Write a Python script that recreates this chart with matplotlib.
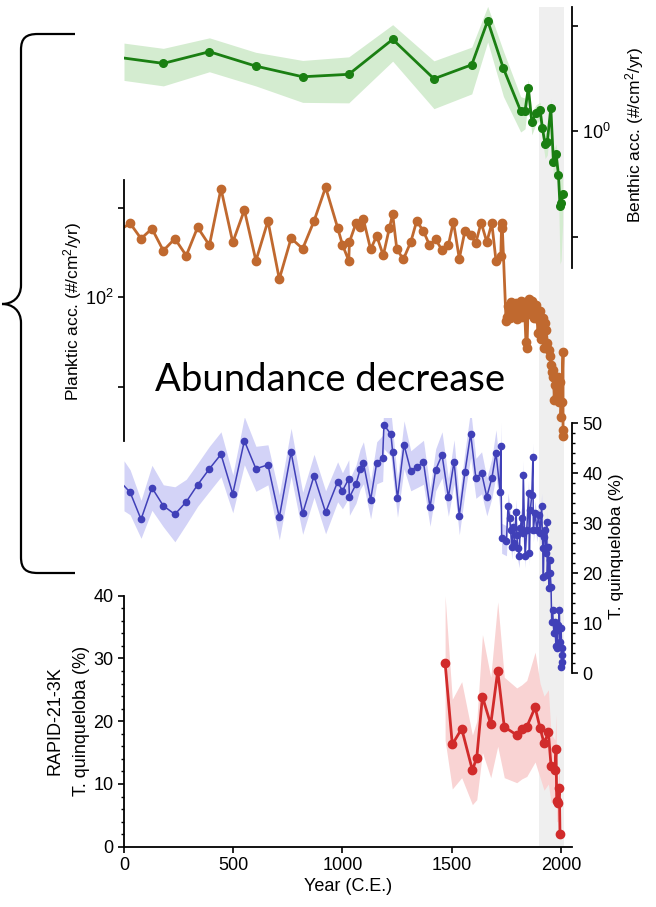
import matplotlib
matplotlib.use('Agg')
import matplotlib.pyplot as plt
from matplotlib.path import Path
from matplotlib.patches import PathPatch
from matplotlib.ticker import MultipleLocator, NullLocator

plt.rcParams['font.family'] = ['Liberation Sans', 'DejaVu Sans']
plt.rcParams['font.size'] = 12
plt.rcParams['mathtext.fontset'] = 'custom'
plt.rcParams['mathtext.rm'] = 'Liberation Sans'
plt.rcParams['mathtext.it'] = 'Liberation Sans:italic'

# benthic accumulation (green, log)
benthic_year = [0, 180, 391, 603, 818, 1029, 1230, 1419, 1592, 1665, 1737, 1816, 1836, 1851,
                1867, 1886, 1905, 1915, 1928, 1938, 1954, 1966, 1978, 1989, 1996, 2001, 2008]
benthic_acc = [4.92, 4.38, 5.65, 4.13, 3.27, 3.45, 7.40, 3.13, 4.25, 11.1, 3.93, 1.55, 1.55, 2.56,
               1.22, 1.47, 1.58, 1.08, 0.748, 0.792, 1.66, 0.505, 0.605, 0.383, 0.195, 0.209, 0.251]
benthic_err = [1.9, 1.7, 2.0, 1.45, 1.4, 1.6, 2.8, 1.5, 2.0, 4.1, 1.8, 0.57, 0.5, 0.5,
               0.3, 0.3, 0.3, 0.25, 0.2, 0.2, 0.35, 0.15, 0.15, 0.12, 0.14, 0.15, 0.12]

# planktic accumulation (brown, log)
planktic_year = [0, 28, 78, 128, 180, 233, 285, 337, 391, 444, 498, 551, 604, 659, 711, 765, 818,
                 870, 923, 978, 1000, 1029, 1032, 1062, 1081, 1096, 1129, 1157, 1187, 1215, 1230,
                 1249, 1279, 1313, 1340, 1371, 1398, 1427, 1455, 1485, 1508, 1535, 1561, 1587,
                 1610, 1635, 1661, 1684, 1703, 1725, 1729, 1732,
                 1749, 1755, 1760, 1766, 1772, 1778, 1784, 1790, 1796, 1801, 1807, 1812, 1818,
                 1822, 1828, 1834, 1840, 1845, 1850, 1856, 1861, 1867, 1872, 1878, 1884, 1890,
                 1895, 1900, 1905, 1911, 1916, 1921, 1927, 1933, 1938, 1944, 1950, 1955, 1958,
                 1962, 1966, 1970, 1973, 1977, 1981, 1985, 1989, 1993, 1996, 2000, 2004, 2010,
                 2010, 2008]
planktic_acc = [605, 671, 452, 584, 332, 452, 292, 605, 381, 1635, 411, 944, 256, 712, 160, 456,
                349, 712, 1694, 599, 387, 256, 415, 671, 615, 744, 344, 484, 294, 595, 846, 344,
                266, 415, 712, 546, 387, 445, 338, 381, 700, 270, 555, 501, 401, 682, 415, 671,
                256, 292, 682, 599,
                55, 60, 80, 58, 88, 62, 82, 65, 86, 57, 84, 70, 90, 60, 88, 72, 32, 27, 78, 96,
                65, 92, 75, 58, 82, 66, 40, 56, 70, 34, 58, 27, 52, 43, 31, 26, 22, 17.5, 14.8,
                15.5, 13, 7.2, 10.5, 12, 7.8, 12.5, 13, 6.8, 11.4, 4.6, 6.8, 24.7, 3.3, 2.8]

# T. quinqueloba (blue, %)
tq_year = [0, 28, 78, 128, 180, 233, 285, 337, 391, 444, 498, 551, 604, 659, 711, 765, 818, 870,
           923, 978, 1000, 1029, 1032, 1062, 1081, 1096, 1129, 1157, 1184, 1190, 1222, 1230, 1252,
           1282, 1313, 1340, 1371, 1401, 1427, 1456, 1485, 1511, 1535, 1561, 1587, 1611, 1637,
           1661, 1684, 1703, 1722, 1725,
           1729, 1751, 1758, 1766, 1770, 1775, 1782, 1787, 1795, 1798, 1803, 1810, 1813, 1821,
           1825, 1828, 1836, 1844, 1852, 1856, 1860, 1867, 1872, 1874, 1882, 1890, 1898, 1905,
           1912, 1917, 1920, 1923, 1928, 1932, 1935, 1938, 1943, 1946, 1948, 1951, 1955, 1958,
           1962, 1968, 1973, 1977, 1981, 1984, 1989, 1993, 1996, 2001, 2004, 2007, 2004, 2001]
tq_pct = [37.5, 36.2, 30.8, 37.1, 33.5, 31.8, 34.3, 37.7, 40.9, 43.8, 35.9, 46.5, 40.9, 41.7,
          31.2, 44.2, 32.0, 39.5, 32.2, 38.3, 36.5, 38.9, 35.2, 37.8, 40.8, 42.1, 34.7, 42.1, 43.0,
          49.7, 47.8, 44.2, 35.0, 45.7, 40.5, 41.3, 42.2, 33.2, 40.7, 43.7, 35.2, 42.3, 31.5, 40.3,
          47.9, 39.0, 40.1, 35.3, 39.0, 44.1, 36.3, 45.5,
          27.0, 26.5, 33.5, 31.0, 28.7, 25.3, 29.3, 26.0, 32.3, 27.7, 25.0, 23.5, 29.0, 31.0,
          28.0, 39.7, 23.5, 28.7, 36.0, 24.0, 32.7, 35.7, 43.2, 28.7, 32.0, 28.7, 31.7, 28.0,
          33.5, 25.0, 19.3, 27.3, 28.7, 24.0, 30.3, 19.7, 25.3, 17.0, 22.7, 20.0, 17.3, 10.3,
          12.7, 8.0, 10.3, 5.5, 8.7, 5.0, 9.7, 12.7, 6.3, 9.0, 5.0, 3.7, 2.3, 1.3]
tq_err = [5.0, 4.5, 3.8, 4.5, 4.2, 5.5, 4.5, 4.3, 4.5, 4.5, 3.8, 4.8, 4.5, 4.0,
          4.5, 4.8, 4.2, 4.3, 4.3, 4.0, 3.6, 3.8, 3.6, 3.8, 4.0, 4.2, 3.8, 4.2, 4.6,
          4.8, 4.4, 4.6, 3.8, 4.8, 4.0, 4.2, 4.4, 3.8, 4.2, 4.6, 3.8, 4.4, 3.8, 4.2,
          4.8, 4.0, 4.2, 3.8, 4.0, 4.6, 3.8, 4.6,
          3.0, 3.0, 2.6, 2.6, 2.5, 2.5, 2.5, 2.5, 2.5, 2.5, 2.5, 2.4, 2.4, 2.4,
          2.4, 2.8, 2.4, 2.4, 2.6, 2.4, 2.5, 2.6, 2.8, 2.4, 2.5, 2.4, 2.5, 2.4,
          2.5, 2.2, 2.0, 2.2, 2.2, 2.0, 2.2, 2.0, 2.0, 1.8, 2.0, 1.8, 1.8, 1.5,
          1.5, 1.2, 1.3, 1.0, 1.2, 1.0, 1.2, 1.4, 1.0, 1.2, 0.9, 0.8, 0.6, 0.5]

# RAPID-21-3K (red, %)
rapid_year = [1470, 1503, 1546, 1595, 1615, 1641, 1679, 1711, 1741, 1798, 1821, 1844, 1882,
              1905, 1923, 1943, 1955, 1973, 1978, 1981, 1987, 1993, 1996]
rapid_pct = [29.3, 16.3, 18.8, 12.2, 14.2, 23.9, 19.5, 28.0, 19.1, 17.8, 18.7, 19.1, 22.2,
             18.9, 16.5, 18.2, 12.9, 12.3, 15.5, 7.3, 7.0, 9.3, 2.1]
rapid_lo = [17, 9.2, 11, 6.7, 7.5, 15, 11, 16, 11, 10.2, 10.8, 11.2, 13.5,
            11, 9, 10, 7, 7, 9, 4, 4, 5, 1]
rapid_hi = [40, 23.5, 26.3, 17.8, 20, 33.8, 27, 39, 27, 25.3, 25.8, 26.5, 31,
            26, 24, 25, 18, 17, 21, 10, 10, 13, 3]

modern_band = [1901, 2015]
x_range = [0, 2051]

W, H = 656, 907


def rect(l, t, r, b):
    return [l / W, 1 - b / H, (r - l) / W, (b - t) / H]


fig = plt.figure(figsize=(W / 100, H / 100), dpi=100)

ax_bg = fig.add_axes(rect(124, 7, 572, 846.7))
ax_bg.set_xlim(x_range)
ax_bg.axvspan(modern_band[0], modern_band[1], color='#efefef', lw=0)
ax_bg.axis('off')

ax_g = fig.add_axes(rect(124, 7, 572, 268))
ax_p = fig.add_axes(rect(124, 180, 572, 441))
ax_b = fig.add_axes(rect(124, 418.3, 572, 673.3))
ax_r = fig.add_axes(rect(124, 595.7, 572, 846.7))

for ax in [ax_g, ax_p, ax_b, ax_r]:
    ax.set_xlim(x_range)
    ax.patch.set_visible(False)
    for s in ax.spines.values():
        s.set_visible(False)
        s.set_linewidth(1.3)

# green
g_lo = [v - e for v, e in zip(benthic_acc, benthic_err)]
g_hi = [v + e for v, e in zip(benthic_acc, benthic_err)]
ax_g.fill_between(benthic_year, g_lo, g_hi, color='#d4ecd0', lw=0)
ax_g.plot(benthic_year, benthic_acc, color='#1a7f12', lw=2, marker='o', ms=5.5,
          markevery=list(range(1, len(benthic_year))))
ax_g.set_yscale('log')
ax_g.set_ylim(0.0503, 15.0)
ax_g.set_yticks([0.1, 1, 10])
ax_g.set_yticklabels(['', r'$10^0$', ''])
ax_g.yaxis.set_minor_locator(NullLocator())
ax_g.yaxis.tick_right()
ax_g.spines['right'].set_visible(True)
ax_g.tick_params(axis='y', direction='out', length=4, width=1.2, labelsize=13)
ax_g.set_xticks([])
fig.text(635 / W, 1 - 135 / H, 'Benthic acc. (#/cm$^2$/yr)', rotation=90,
         ha='center', va='center', fontsize=12.5)

# planktic
ax_p.plot(planktic_year, planktic_acc, color='#c0692f', lw=2, marker='o', ms=6,
          markevery=list(range(1, len(planktic_year))))
ax_p.set_yscale('log')
ax_p.set_ylim(2.48, 2043)
ax_p.set_yticks([10, 100, 1000])
ax_p.set_yticklabels(['', r'$10^2$', ''])
ax_p.yaxis.set_minor_locator(NullLocator())
ax_p.spines['left'].set_visible(True)
ax_p.tick_params(axis='y', direction='out', length=4, width=1.2, labelsize=13)
ax_p.set_xticks([])
fig.text(73 / W, 1 - 311 / H, 'Planktic acc. (#/cm$^2$/yr)', rotation=90,
         ha='center', va='center', fontsize=12.5)

# blue
b_lo = [v - e for v, e in zip(tq_pct, tq_err)]
b_hi = [v + e for v, e in zip(tq_pct, tq_err)]
ax_b.fill_between(tq_year, b_lo, b_hi, color='#d3d3f7', lw=0)
ax_b.plot(tq_year, tq_pct, color='#4040b8', lw=1.1, marker='o', ms=4.5,
          markevery=list(range(1, len(tq_year))))
ax_b.set_ylim(0, 51)
ax_b.yaxis.tick_right()
ax_b.spines['right'].set_visible(True)
ax_b.spines['right'].set_bounds(0, 50)
ax_b.set_yticks([0, 10, 20, 30, 40, 50])
ax_b.yaxis.set_minor_locator(MultipleLocator(2))
ax_b.tick_params(axis='y', which='major', direction='out', length=4, width=1.2, labelsize=13)
ax_b.tick_params(axis='y', which='minor', direction='out', length=2.2, width=1)
ax_b.set_xticks([])
fig.text(616 / W, 1 - 546 / H, 'T. quinqueloba (%)', rotation=90,
         ha='center', va='center', fontsize=12.5)

# red
ax_r.fill_between(rapid_year, rapid_lo, rapid_hi, color='#f9d3d3', lw=0)
ax_r.plot(rapid_year, rapid_pct, color='#d12b2b', lw=2, marker='o', ms=6)
ax_r.set_ylim(0, 40)
ax_r.spines['left'].set_visible(True)
ax_r.spines['bottom'].set_visible(True)
ax_r.set_yticks([0, 10, 20, 30, 40])
ax_r.yaxis.set_minor_locator(MultipleLocator(2))
ax_r.set_xticks([0, 500, 1000, 1500, 2000])
ax_r.tick_params(which='major', direction='out', length=4, width=1.2, labelsize=13)
ax_r.tick_params(axis='y', which='minor', direction='out', length=2.2, width=1)
ax_r.set_xlabel('Year (C.E.)', fontsize=13, labelpad=3)
fig.text(55 / W, 1 - 721 / H, 'RAPID-21-3K', rotation=90, ha='center', va='center', fontsize=13)
fig.text(81 / W, 1 - 721 / H, 'T. quinqueloba (%)', rotation=90, ha='center', va='center', fontsize=13)

fig.text(330 / W, 1 - 380 / H, 'Abundance decrease', ha='center', va='center',
         fontsize=27.5, family=['Lato', 'DejaVu Sans'])

# curly brace on the left
pts = [(75, 34), (38, 34), (26, 34), (21, 38), (21, 50), (21, 285), (21, 298), (12, 304), (2, 304),
       (12, 304), (21, 310), (21, 323), (21, 557), (21, 569), (26, 573), (38, 573), (75, 573)]
codes = [Path.MOVETO, Path.LINETO, Path.CURVE4, Path.CURVE4, Path.CURVE4, Path.LINETO,
         Path.CURVE4, Path.CURVE4, Path.CURVE4, Path.CURVE4, Path.CURVE4, Path.CURVE4,
         Path.LINETO, Path.CURVE4, Path.CURVE4, Path.CURVE4, Path.LINETO]
verts = [(x / W, 1 - y / H) for x, y in pts]
fig.patches.append(PathPatch(Path(verts, codes), transform=fig.transFigure,
                             fill=False, lw=1.6, color='black'))

fig.savefig('out.png', dpi=100)
